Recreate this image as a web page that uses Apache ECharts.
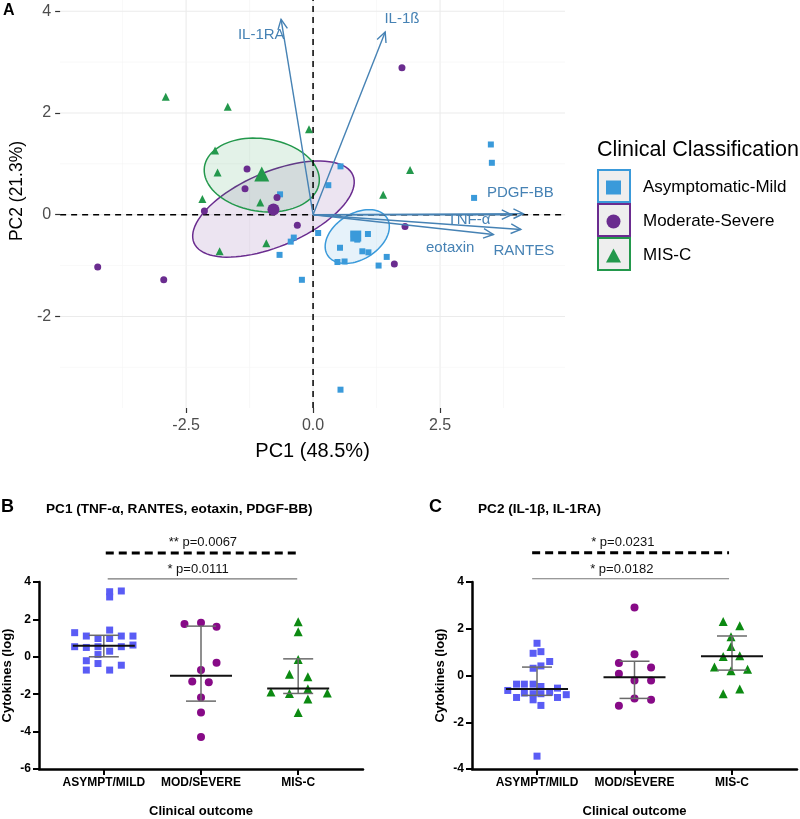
<!DOCTYPE html>
<html>
<head>
<meta charset="utf-8" />
<title>PCA of cytokines by clinical classification</title>
<script src="https://cdn.jsdelivr.net/npm/echarts@6/dist/echarts.min.js"></script>
<style>html,body{margin:0;padding:0;background:#fff;}</style>
</head>
<body>
<div id="main" style="width:800px;height:819px;"></div>
<script type="text/javascript">
// ---- panel A : PCA biplot (PC1, PC2) ----
var asymPCA = [[3.50,1.38],[3.52,1.02],[3.17,0.33],[0.54,0.95],[0.30,0.58],[-0.65,0.40],[0.10,-0.36],[-0.38,-0.45],[-0.44,-0.53],[-0.66,-0.79],[-0.22,-1.28],[0.53,-0.65],[0.48,-0.93],[0.62,-0.92],[0.97,-0.72],[1.09,-0.74],[1.29,-1.00],[1.45,-0.83],[0.54,-3.44],[0.80,-0.39],[1.08,-0.38],[0.87,-0.49]];
var modPCA = [[1.75,2.89],[-1.30,0.90],[-1.34,0.51],[-0.71,0.34],[-2.14,0.07],[-0.31,-0.21],[1.81,-0.23],[-4.24,-1.03],[-2.94,-1.28],[1.60,-0.97]];
var miscPCA = [[-2.90,2.32],[-1.68,2.12],[-0.08,1.68],[-1.93,1.26],[-1.88,0.83],[-2.18,0.31],[-1.04,0.24],[1.91,0.88],[1.38,0.39],[-0.92,-0.56],[-1.84,-0.72]];
var centroids = [[0.84,-0.42],[-0.78,0.10],[-1.01,0.80]];
// ellipse: centre x, centre y, semi-major, semi-minor, angle (deg)
var ellipses = [[0.87,-0.43,0.69,0.45,32],[-0.78,0.11,1.70,0.73,23],[-1.01,0.78,1.14,0.715,-8]];
var loadingNames = ['IL-1RA','IL-1ß','PDGF-BB','TNF-α','RANTES','eotaxin'];
var loadingTips = [[-0.63,3.84],[1.42,3.59],[4.14,0.02],[3.91,0.00],[4.09,-0.29],[3.55,-0.39]];
var loadingLabelAt = [[-1.02,3.54],[1.75,3.85],[4.08,0.42],[3.07,-0.10],[4.15,-0.72],[2.70,-0.65]];
var ticksAX = [-2.5,0,2.5];
var ticksAY = [-2,0,2,4];
var minorAX = [-3.75,-1.25,1.25,3.75];
var minorAY = [-3,-1,1,3];
var groupNames = ['Asymptomatic-Mild','Moderate-Severe','MIS-C'];

// ---- panels B and C : PC scores per clinical outcome ----
var outcomes = ['ASYMPT/MILD','MOD/SEVERE','MIS-C'];
var asymB = [[0.18,3.52],[0.06,3.48],[0.06,3.20],[-0.30,1.29],[-0.18,1.11],[-0.06,0.98],[0.06,1.43],[0.06,0.98],[0.18,1.11],[0.30,1.11],[-0.30,0.54],[-0.18,0.50],[-0.06,0.54],[0.18,0.54],[0.30,0.63],[0.06,0.30],[-0.06,0.12],[-0.18,-0.21],[-0.06,-0.36],[0.18,-0.45],[-0.18,-0.71],[0.06,-0.71]];
var modB = [[0.83,1.75],[1.00,1.82],[1.16,1.61],[1.16,-0.32],[1.00,-0.71],[0.91,-1.32],[1.08,-1.36],[1.00,-2.18],[1.00,-2.98],[1.00,-4.29]];
var miscB = [[2.00,1.88],[2.00,1.34],[2.00,-0.14],[1.91,-0.93],[2.10,-1.07],[2.10,-1.71],[1.72,-1.88],[1.91,-1.96],[2.30,-1.93],[2.10,-2.25],[2.00,-2.98]];
var asymC = [[0.00,1.38],[-0.04,0.95],[0.04,1.02],[0.13,0.60],[0.04,0.41],[-0.04,0.31],[-0.04,-0.37],[-0.13,-0.37],[-0.21,-0.37],[0.04,-0.47],[-0.30,-0.64],[0.21,-0.54],[-0.21,-0.94],[-0.13,-0.75],[-0.04,-0.78],[0.04,-0.78],[0.13,-0.72],[0.21,-0.94],[0.30,-0.82],[-0.04,-1.04],[0.04,-1.28],[0.00,-3.45]];
var modC = [[1.00,2.91],[1.00,0.91],[0.84,0.53],[1.17,0.34],[0.84,0.07],[1.00,-0.21],[1.17,-0.21],[1.00,-0.98],[1.17,-1.04],[0.84,-1.29]];
var miscC = [[1.91,2.31],[2.08,2.13],[1.99,1.66],[1.99,1.24],[1.91,0.81],[2.08,0.84],[1.82,0.36],[2.16,0.27],[1.99,0.20],[1.91,-0.78],[2.08,-0.58]];
// group index, median, lower, upper
var errB = [[0,0.59,0.00,1.15],[1,-1.02,-2.37,1.64],[2,-1.70,-1.96,-0.11]];
var errC = [[0,-0.58,-0.85,0.36],[1,-0.07,-0.98,0.61],[2,0.82,0.23,1.69]];
// significance bars: from, to, bar level ; label anchor
var sigTextB = ['** p=0.0067','* p=0.0111'];
var sigBarsB = [[0.02,1.98,5.55],[0.04,1.99,4.17]];
var sigLabelAtB = [[1.02,6.12],[0.97,4.65]];
var sigTextC = ['* p=0.0231','* p=0.0182'];
var sigBarsC = [[-0.05,1.97,5.25],[-0.05,1.97,4.14]];
var sigLabelAtC = [[0.88,5.70],[0.87,4.53]];

var FONT = '"Liberation Sans", Arial, sans-serif';
var colA = ['#3A9ADA', '#6A2C8F', '#23984C'];
var colB = ['#5A5CF5', '#870A87', '#0C8A12'];
var STEEL = '#4682B4';
var AX = [-4.98, 4.96], AY = [-3.8, 4.22];

var myChart = echarts.init(document.getElementById('main'));

function renderGrid(params, api) {
	var v = api.value(0), dir = api.value(1), major = api.value(2);
	var p1, p2;
	if (dir === 0) { p1 = api.coord([v, AY[0]]); p2 = api.coord([v, AY[1]]); }
	else { p1 = api.coord([AX[0], v]); p2 = api.coord([AX[1], v]); }
	return { type: 'line', silent: true,
		shape: { x1: p1[0], y1: p1[1], x2: p2[0], y2: p2[1] },
		style: { stroke: major ? '#EBEBEB' : '#F3F3F3', lineWidth: major ? 1.1 : 0.6 } };
}
function renderZero(params, api) {
	var dir = api.value(1), p1, p2;
	if (dir === 0) { p1 = api.coord([0, AY[0]]); p2 = api.coord([0, AY[1]]); }
	else { p1 = api.coord([AX[0], 0]); p2 = api.coord([AX[1], 0]); }
	return { type: 'line', silent: true,
		shape: { x1: p1[0], y1: p1[1], x2: p2[0], y2: p2[1] },
		style: { stroke: '#000', lineWidth: 1.5, lineDash: [6, 5] } };
}
function renderEllipse(params, api) {
	var cx = api.value(0), cy = api.value(1), a = api.value(2), b = api.value(3);
	var ang = api.value(4) * Math.PI / 180;
	var pts = [];
	for (var k = 0; k < 90; k++) {
		var t = k / 90 * Math.PI * 2;
		var ex = a * Math.cos(t), ey = b * Math.sin(t);
		pts.push(api.coord([cx + ex * Math.cos(ang) - ey * Math.sin(ang), cy + ex * Math.sin(ang) + ey * Math.cos(ang)]));
	}
	var c = colA[params.dataIndex];
	return { type: 'polygon', silent: true, shape: { points: pts },
		style: { fill: echarts.color.modifyAlpha(c, 0.13), stroke: c, lineWidth: 1.5 } };
}
function renderArrow(params, api) {
	var o = api.coord([0, 0]);
	var p = api.coord([api.value(0), api.value(1)]);
	var l = api.coord([api.value(2), api.value(3)]);
	var dx = p[0] - o[0], dy = p[1] - o[1], len = Math.sqrt(dx * dx + dy * dy);
	var bx = -dx / len, by = -dy / len, h = 11, ca = Math.cos(0.45), sa = Math.sin(0.45);
	var p1 = [p[0] + h * (bx * ca - by * sa), p[1] + h * (bx * sa + by * ca)];
	var p2 = [p[0] + h * (bx * ca + by * sa), p[1] + h * (-bx * sa + by * ca)];
	return { type: 'group', silent: true, children: [
		{ type: 'line', shape: { x1: o[0], y1: o[1], x2: p[0], y2: p[1] }, style: { stroke: STEEL, lineWidth: 1.4 } },
		{ type: 'polyline', shape: { points: [p1, p, p2] }, style: { stroke: STEEL, lineWidth: 1.4, fill: null } },
		{ type: 'text', x: l[0], y: l[1], style: { text: loadingNames[params.dataIndex], fill: STEEL,
			fontSize: 15, fontFamily: FONT, align: 'center', verticalAlign: 'middle' } }
	] };
}
function renderErr(params, api) {
	var c = api.value(0);
	var pm = api.coord([c, api.value(1)]), pl = api.coord([c, api.value(2)]), ph = api.coord([c, api.value(3)]);
	var mw = 31, cw = 15, grey = '#6A6A6A';
	return { type: 'group', silent: true, children: [
		{ type: 'line', shape: { x1: pl[0], y1: pl[1], x2: ph[0], y2: ph[1] }, style: { stroke: grey, lineWidth: 1.5 } },
		{ type: 'line', shape: { x1: pl[0] - cw, y1: pl[1], x2: pl[0] + cw, y2: pl[1] }, style: { stroke: grey, lineWidth: 1.5 } },
		{ type: 'line', shape: { x1: ph[0] - cw, y1: ph[1], x2: ph[0] + cw, y2: ph[1] }, style: { stroke: grey, lineWidth: 1.5 } },
		{ type: 'line', shape: { x1: pm[0] - mw, y1: pm[1], x2: pm[0] + mw, y2: pm[1] }, style: { stroke: '#111', lineWidth: 2 } }
	] };
}
function makeSigRender(texts) {
	return function (params, api) {
		var i = params.dataIndex;
		var a = api.coord([api.value(0), api.value(2)]), b = api.coord([api.value(1), api.value(2)]);
		var t = api.coord([api.value(3), api.value(4)]);
		var dashed = i === 0;
		return { type: 'group', silent: true, children: [
			{ type: 'line', shape: { x1: a[0], y1: a[1], x2: b[0], y2: b[1] },
				style: dashed ? { stroke: '#000', lineWidth: 3, lineDash: [8, 5] } : { stroke: '#777', lineWidth: 1.2 } },
			{ type: 'text', x: t[0], y: t[1], style: { text: texts[i], fill: '#111', fontSize: 13, fontFamily: FONT,
				align: 'center', verticalAlign: 'middle' } }
		] };
	};
}
function zipSig(bars, at) {
	return bars.map(function (b, i) { return [b[0], b[1], b[2], at[i][0], at[i][1]]; });
}

var gridData = [];
ticksAX.forEach(function (v) { gridData.push([v, 0, 1]); });
minorAX.forEach(function (v) { gridData.push([v, 0, 0]); });
ticksAY.forEach(function (v) { gridData.push([v, 1, 1]); });
minorAY.forEach(function (v) { gridData.push([v, 1, 0]); });
var arrowData = loadingTips.map(function (p, i) { return [p[0], p[1], loadingLabelAt[i][0], loadingLabelAt[i][1]]; });

var boldAxis = { lineStyle: { color: '#000', width: 2.5 }, onZero: false };
var boldTick = { length: 6, lineStyle: { color: '#000', width: 2 } };
var boldLabel = { color: '#000', fontWeight: 'bold', fontSize: 12, fontFamily: FONT, margin: 8 };
var boldName = { color: '#000', fontWeight: 'bold', fontSize: 13, fontFamily: FONT };
function outcomeX(gi) {
	return { type: 'value', gridIndex: gi, min: -0.667, max: 2.667, axisLine: boldAxis,
		axisTick: echarts.util.extend({ customValues: [0, 1, 2] }, boldTick),
		axisLabel: echarts.util.extend({ customValues: [0, 1, 2], formatter: function (v) { return outcomes[Math.round(v)]; } }, boldLabel),
		splitLine: { show: false },
		name: 'Clinical outcome', nameLocation: 'middle', nameGap: 36, nameTextStyle: boldName };
}
function cytoY(gi, lo) {
	return { type: 'value', gridIndex: gi, min: lo, max: 4, interval: 2, axisLine: boldAxis,
		axisTick: boldTick, axisLabel: boldLabel, splitLine: { show: false },
		name: 'Cytokines (log)', nameLocation: 'middle', nameRotate: 90, nameGap: 25, nameTextStyle: boldName };
}
var symbols = ['rect', 'circle', 'triangle'];
function dotSeries(data, k, xi, size) {
	return { type: 'scatter', name: outcomes[k], xAxisIndex: xi, yAxisIndex: xi, data: data,
		symbol: symbols[k], symbolSize: size, itemStyle: { color: colB[k], opacity: 1 }, z: 3 };
}

var option = {
	animation: false,
	textStyle: { fontFamily: FONT },
	title: [
		{ text: 'A', left: 3, top: 3, padding: 0, textStyle: { fontSize: 16, fontWeight: 'bold', color: '#000', fontFamily: FONT } },
		{ text: 'Clinical Classification', left: 597, top: 139, padding: 0, textStyle: { fontSize: 21.5, fontWeight: 'normal', color: '#000', fontFamily: FONT } },
		{ text: 'B', left: 1, top: 498, padding: 0, textStyle: { fontSize: 18, fontWeight: 'bold', color: '#000', fontFamily: FONT } },
		{ text: 'PC1 (TNF-α, RANTES, eotaxin, PDGF-BB)', left: 46, top: 502, padding: 0, textStyle: { fontSize: 13.6, fontWeight: 'bold', color: '#000', fontFamily: FONT } },
		{ text: 'C', left: 429, top: 498, padding: 0, textStyle: { fontSize: 18, fontWeight: 'bold', color: '#000', fontFamily: FONT } },
		{ text: 'PC2 (IL-1β, IL-1RA)', left: 478, top: 502, padding: 0, textStyle: { fontSize: 13.6, fontWeight: 'bold', color: '#000', fontFamily: FONT } }
	],
	legend: {
		data: [{ name: groupNames[0], icon: 'rect' }, { name: groupNames[1], icon: 'circle' }, { name: groupNames[2], icon: 'triangle' }],
		orient: 'vertical', left: 606, top: 179, padding: 0, itemWidth: 15, itemHeight: 14, itemGap: 17, selectedMode: false,
		textStyle: { fontSize: 17, color: '#000', fontFamily: FONT, lineHeight: 14, padding: [0, 0, 0, 17] }
	},
	graphic: [
		{ type: 'rect', shape: { x: 598, y: 170, width: 32, height: 32 }, style: { fill: '#EEEEEE', stroke: colA[0], lineWidth: 2 }, z: 0 },
		{ type: 'rect', shape: { x: 598, y: 204, width: 32, height: 32 }, style: { fill: '#EEEEEE', stroke: colA[1], lineWidth: 2 }, z: 0 },
		{ type: 'rect', shape: { x: 598, y: 238, width: 32, height: 32 }, style: { fill: '#EEEEEE', stroke: colA[2], lineWidth: 2 }, z: 0 }
	],
	grid: [
		{ left: 59, top: 0, width: 506, height: 408 },
		{ left: 38, top: 582, width: 325, height: 188 },
		{ left: 472, top: 582, width: 325, height: 188 }
	],
	xAxis: [
		{ type: 'value', gridIndex: 0, min: AX[0], max: AX[1], axisLine: { show: false, onZero: false },
			axisTick: { customValues: ticksAX, length: 5, lineStyle: { color: '#333', width: 1.2 } },
			axisLabel: { customValues: ticksAX, formatter: function (v) { return v.toFixed(1); }, color: '#4D4D4D', fontSize: 16, fontFamily: FONT, margin: 10 },
			splitLine: { show: false },
			name: 'PC1 (48.5%)', nameLocation: 'middle', nameGap: 33, nameTextStyle: { color: '#000', fontSize: 20, fontFamily: FONT } },
		outcomeX(1), outcomeX(2)
	],
	yAxis: [
		{ type: 'value', gridIndex: 0, min: AY[0], max: AY[1], axisLine: { show: false, onZero: false },
			axisTick: { customValues: ticksAY, length: 5, lineStyle: { color: '#333', width: 1.2 } },
			axisLabel: { customValues: ticksAY, color: '#4D4D4D', fontSize: 16, fontFamily: FONT, margin: 9 },
			splitLine: { show: false },
			name: 'PC2 (21.3%)', nameLocation: 'middle', nameRotate: 90, nameGap: 32,
			nameTextStyle: { color: '#000', fontSize: 17.5, fontFamily: FONT, padding: [0, 0, 0, 26] } },
		cytoY(1, -6), cytoY(2, -4)
	],
	series: [
		{ type: 'custom', xAxisIndex: 0, yAxisIndex: 0, renderItem: renderGrid, data: gridData, z: 0, silent: true },
		{ type: 'custom', xAxisIndex: 0, yAxisIndex: 0, renderItem: renderEllipse, data: ellipses, z: 1, silent: true },
		{ type: 'custom', xAxisIndex: 0, yAxisIndex: 0, renderItem: renderZero, data: [[0, 0], [0, 1]], z: 2, silent: true },
		{ type: 'scatter', name: groupNames[0], xAxisIndex: 0, yAxisIndex: 0, data: asymPCA, symbol: 'rect', symbolSize: 6, itemStyle: { color: colA[0], opacity: 1 }, z: 3 },
		{ type: 'scatter', name: groupNames[1], xAxisIndex: 0, yAxisIndex: 0, data: modPCA, symbol: 'circle', symbolSize: 7, itemStyle: { color: colA[1], opacity: 1 }, z: 3 },
		{ type: 'scatter', name: groupNames[2], xAxisIndex: 0, yAxisIndex: 0, data: miscPCA, symbol: 'triangle', symbolSize: 8, itemStyle: { color: colA[2], opacity: 1 }, z: 3 },
		{ type: 'scatter', name: groupNames[0], xAxisIndex: 0, yAxisIndex: 0, data: [centroids[0]], symbol: 'rect', symbolSize: 11, itemStyle: { color: colA[0], opacity: 1 }, z: 3 },
		{ type: 'scatter', name: groupNames[1], xAxisIndex: 0, yAxisIndex: 0, data: [centroids[1]], symbol: 'circle', symbolSize: 12, itemStyle: { color: colA[1], opacity: 1 }, z: 3 },
		{ type: 'scatter', name: groupNames[2], xAxisIndex: 0, yAxisIndex: 0, data: [centroids[2]], symbol: 'triangle', symbolSize: 15, itemStyle: { color: colA[2], opacity: 1 }, z: 3 },
		{ type: 'custom', xAxisIndex: 0, yAxisIndex: 0, renderItem: renderArrow, data: arrowData, z: 4, silent: true },

		dotSeries(asymB, 0, 1, 7), dotSeries(modB, 1, 1, 8), dotSeries(miscB, 2, 1, 9),
		{ type: 'custom', xAxisIndex: 1, yAxisIndex: 1, renderItem: renderErr, data: errB, z: 4, silent: true },
		{ type: 'custom', xAxisIndex: 1, yAxisIndex: 1, renderItem: makeSigRender(sigTextB), data: zipSig(sigBarsB, sigLabelAtB), z: 4, silent: true },

		dotSeries(asymC, 0, 2, 7), dotSeries(modC, 1, 2, 8), dotSeries(miscC, 2, 2, 9),
		{ type: 'custom', xAxisIndex: 2, yAxisIndex: 2, renderItem: renderErr, data: errC, z: 4, silent: true },
		{ type: 'custom', xAxisIndex: 2, yAxisIndex: 2, renderItem: makeSigRender(sigTextC), data: zipSig(sigBarsC, sigLabelAtC), z: 4, silent: true }
	]
};
myChart.setOption(option);
</script>
</body>
</html>
